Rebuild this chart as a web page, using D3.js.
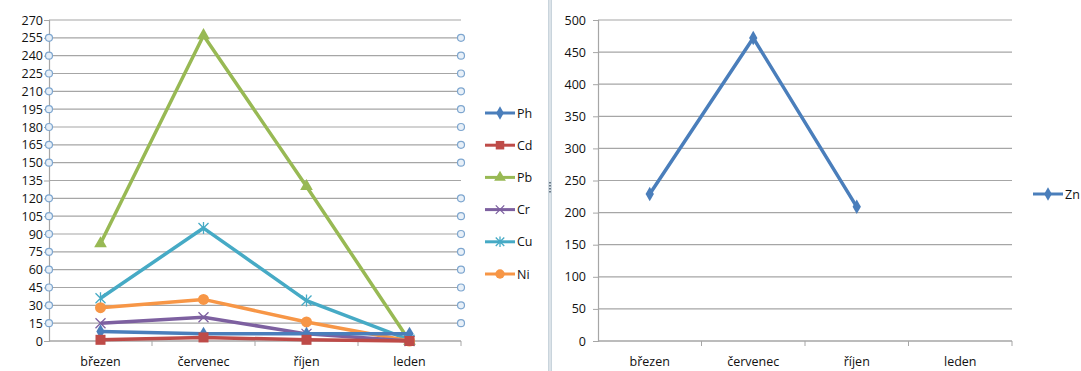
<!DOCTYPE html>
<html><head><meta charset="utf-8">
<script src="https://cdn.jsdelivr.net/npm/d3@7"></script>
<style>body{margin:0;background:#fff;} text{font-family:"Open Sans",sans-serif;font-size:12.5px;fill:#111;}</style>
</head><body>
<svg id="c" width="1081" height="371"></svg>
<script>
const categories = ["březen","červenec","říjen","leden"];
const seriesNames = ["Ph","Cd","Pb","Cr","Cu","Ni"];
const Ph = [8, 6, 6, 6];
const Cd = [1, 3, 1, 0];
const Pb = [82, 257, 130, 0];
const Cr = [15, 20, 6, 0];
const Cu = [36, 95, 34, 1];
const Ni = [28, 35, 16, 0];
const Zn = [229, 472, 209, null];
const leftTicks = d3.range(0, 271, 15);
const rightTicks = d3.range(0, 501, 50);
const circleTicks = [15,30,45,60,75,90,105,120,150,165,180,195,210,225,240,255];

const colors = {Ph:"#4a7ebb", Cd:"#be4b48", Pb:"#98b954", Cr:"#7d60a0", Cu:"#46aac5", Ni:"#f79646", Zn:"#4a7ebb"};
const shapes = {Ph:"diamond", Cd:"square", Pb:"triangle", Cr:"x", Cu:"star", Ni:"circle", Zn:"diamond"};
const dataMap = {Ph, Cd, Pb, Cr, Cu, Ni};

const svg = d3.select("#c");

function marker(g, shape, x, y, color, s=1) {
  if (shape === "diamond") {
    g.append("path").attr("d", d3.symbol(d3.symbolDiamond, 60*s)()).attr("transform", `translate(${x},${y})`).attr("fill", color);
  } else if (shape === "square") {
    g.append("rect").attr("x", x-5*s).attr("y", y-5*s).attr("width", 10*s).attr("height", 10*s).attr("fill", color);
  } else if (shape === "triangle") {
    g.append("path").attr("d", d3.symbol(d3.symbolTriangle, 70*s)()).attr("transform", `translate(${x},${y})`).attr("fill", color);
  } else if (shape === "x") {
    const r = 5*s;
    g.append("path").attr("d", `M${x-r},${y-r}L${x+r},${y+r}M${x-r},${y+r}L${x+r},${y-r}`).attr("stroke", color).attr("stroke-width", 1.3);
  } else if (shape === "star") {
    const r = 5*s;
    g.append("path").attr("d", `M${x-r},${y-r}L${x+r},${y+r}M${x-r},${y+r}L${x+r},${y-r}M${x},${y-r-1}L${x},${y+r+1}`).attr("stroke", color).attr("stroke-width", 1.3);
  } else if (shape === "circle") {
    g.append("circle").attr("cx", x).attr("cy", y).attr("r", 5.5*s).attr("fill", color);
  }
}

function chart(opts) {
  const {x0, x1, y0, y1, ticks, domainMax, labelX} = opts;
  const x = d3.scaleBand().domain(categories).range([x0, x1]);
  const y = d3.scaleLinear().domain([0, domainMax]).range([y1, y0]);
  const g = svg.append("g");
  g.selectAll(".grid").data(ticks).join("line")
    .attr("x1", x0).attr("x2", x1).attr("y1", d => y(d)).attr("y2", d => y(d))
    .attr("stroke", "#a6a6a6").attr("stroke-width", 1.2);
  const ya = g.append("g").attr("transform", `translate(${x0},0)`)
    .call(d3.axisLeft(y).tickValues(ticks).tickSize(5).tickPadding(3));
  ya.select(".domain").attr("stroke", "#a6a6a6").attr("stroke-width", 1.2);
  ya.selectAll(".tick line").attr("stroke", "#a6a6a6");
  ya.selectAll("text").style("font-size", "12.5px").attr("fill", "#111").attr("x", labelX - x0);
  const xa = g.append("g").attr("transform", `translate(0,${y1})`);
  xa.append("line").attr("x1", x0).attr("x2", x1).attr("stroke", "#a6a6a6").attr("stroke-width", 1.2);
  const bounds = categories.map(c => x(c) + x.bandwidth());
  xa.selectAll(".bt").data(bounds).join("line")
    .attr("x1", d => d).attr("x2", d => d).attr("y1", 0).attr("y2", 5).attr("stroke", "#a6a6a6");
  xa.selectAll(".xl").data(categories).join("text")
    .attr("x", d => x(d) + x.bandwidth()/2).attr("y", 25).attr("text-anchor", "middle").text(d => d);
  return {g, x, y};
}

const L = chart({x0: 49, x1: 461, y0: 20, y1: 341, ticks: leftTicks, domainMax: 270, labelX: 43});
const lg = L.g;
[49, 461].forEach(cx => {
  lg.selectAll(null).data(circleTicks).join("circle")
    .attr("cx", cx).attr("cy", d => L.y(d)).attr("r", 3.5)
    .attr("fill", "#e8f0f8").attr("stroke", "#7ea6cf").attr("stroke-width", 1.2);
});
const cx = c => L.x(c) + L.x.bandwidth()/2;
const drawOrder = ["Pb","Cu","Ni","Cr","Ph","Cd"];
drawOrder.forEach(name => {
  const vals = dataMap[name];
  const line = d3.line().x((d,i) => cx(categories[i])).y(d => L.y(d));
  lg.append("path").datum(vals).attr("d", line).attr("fill", "none")
    .attr("stroke", colors[name]).attr("stroke-width", 3.5).attr("stroke-linejoin", "round");
  vals.forEach((v,i) => marker(lg, shapes[name], cx(categories[i]), L.y(v), colors[name]));
});
const legY = d3.scalePoint().domain(seriesNames).range([113, 274]);
seriesNames.forEach(name => {
  const yy = legY(name);
  lg.append("line").attr("x1", 485).attr("x2", 515).attr("y1", yy).attr("y2", yy)
    .attr("stroke", colors[name]).attr("stroke-width", 3);
  marker(lg, shapes[name], 500, yy, colors[name], 0.85);
  lg.append("text").attr("x", 517).attr("y", yy + 4.5).text(name);
});

svg.append("rect").attr("x", 548).attr("y", 0).attr("width", 4).attr("height", 371).attr("fill", "#c9d4dc");
svg.append("line").attr("x1", 550).attr("x2", 550).attr("y1", 0).attr("y2", 371).attr("stroke", "#eef2f5").attr("stroke-width", 1);
[182, 185, 188, 191].forEach(yy => svg.append("rect").attr("x", 549).attr("y", yy).attr("width", 2).attr("height", 1.5).attr("fill", "#6a7a88"));

const R = chart({x0: 598, x1: 1012, y0: 20, y1: 341, ticks: rightTicks, domainMax: 500, labelX: 586});
const rg = R.g;
const rcx = c => R.x(c) + R.x.bandwidth()/2;
const zline = d3.line().defined(d => d !== null).x((d,i) => rcx(categories[i])).y(d => R.y(d));
rg.append("path").datum(Zn).attr("d", zline).attr("fill", "none")
  .attr("stroke", colors.Zn).attr("stroke-width", 3.5).attr("stroke-linejoin", "round");
Zn.forEach((v,i) => { if (v !== null) marker(rg, "diamond", rcx(categories[i]), R.y(v), colors.Zn); });
rg.append("line").attr("x1", 1033).attr("x2", 1063).attr("y1", 194).attr("y2", 194).attr("stroke", colors.Zn).attr("stroke-width", 3);
marker(rg, "diamond", 1048, 194, colors.Zn, 0.85);
rg.append("text").attr("x", 1065).attr("y", 198.5).text("Zn");
</script>
</body></html>
